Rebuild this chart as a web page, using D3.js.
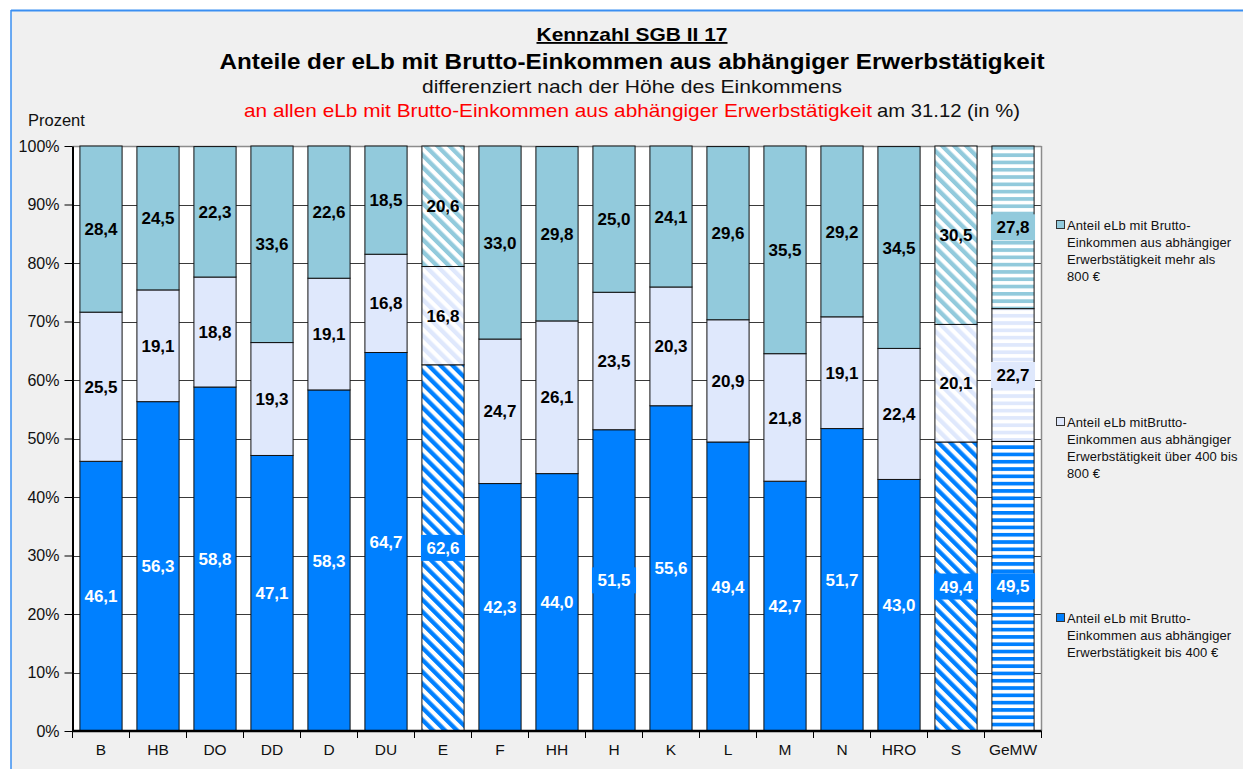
<!DOCTYPE html>
<html>
<head>
<meta charset="utf-8">
<script src="https://cdn.jsdelivr.net/npm/d3@7"></script>
<style>
  html, body { margin: 0; padding: 0; background: #fff; }
  svg { display: block; font-family: "Liberation Sans", Arial, sans-serif; }
</style>
</head>
<body>
<svg id="chart" width="1243" height="769"></svg>
<script>
// Cities / comparison groups on the x axis
const categories = ["B", "HB", "DO", "DD", "D", "DU", "E", "F", "HH", "H", "K", "L", "M", "N", "HRO", "S", "GeMW"];

// Shares (in %) of eLb with gross income from dependent employment
const upTo400 = [46.1, 56.3, 58.8, 47.1, 58.3, 64.7, 62.6, 42.3, 44.0, 51.5, 55.6, 49.4, 42.7, 51.7, 43.0, 49.4, 49.5];
const from400to800 = [25.5, 19.1, 18.8, 19.3, 19.1, 16.8, 16.8, 24.7, 26.1, 23.5, 20.3, 20.9, 21.8, 19.1, 22.4, 20.1, 22.7];
const over800 = [28.4, 24.5, 22.3, 33.6, 22.6, 18.5, 20.6, 33.0, 29.8, 25.0, 24.1, 29.6, 35.5, 29.2, 34.5, 30.5, 27.8];

const yTicks = [0, 10, 20, 30, 40, 50, 60, 70, 80, 90, 100];

const seriesKeys = ["low", "mid", "high"];
const legendLines = {
  high: ["Anteil eLb mit Brutto-", "Einkommen aus abhängiger", "Erwerbstätigkeit mehr als", "800 €"],
  mid: ["Anteil eLb mitBrutto-", "Einkommen aus abhängiger", "Erwerbstätigkeit über 400 bis", "800 €"],
  low: ["Anteil eLb mit Brutto-", "Einkommen aus abhängiger", "Erwerbstätigkeit bis 400 €"]
};

// Styling
const colors = { low: "#0080ff", mid: "#dfe8fc", high: "#92cadc" };
const labelColors = { low: "#ffffff", mid: "#000000", high: "#000000" };
const hatch = { E: "diag", S: "diag", GeMW: "horiz" };
const boxedLabels = new Set(["E|low", "H|low", "S|low", "GeMW|low", "GeMW|mid", "GeMW|high"]);

const rows = categories.map((c, i) => ({ cat: c, low: upTo400[i], mid: from400to800[i], high: over800[i] }));
const stacked = d3.stack().keys(seriesKeys)(rows);

const svg = d3.select("#chart");
const W = 1243, H = 769;
const plot = { left: 72.5, right: 1041.5, top: 146, bottom: 731 };

// Frame background
svg.append("rect").attr("width", W).attr("height", H).attr("fill", "#ffffff");
svg.append("rect").attr("x", 11).attr("y", 10).attr("width", W - 11).attr("height", H - 10).attr("fill", "#f0f0f0");
svg.append("line").attr("x1", 11).attr("x2", W).attr("y1", 10.5).attr("y2", 10.5).attr("stroke", "#3a8ff2").attr("stroke-width", 2);
svg.append("line").attr("x1", 11).attr("x2", 11).attr("y1", 10).attr("y2", H).attr("stroke", "#3a8ff2").attr("stroke-width", 1.5);

// Hatch patterns
const defs = svg.append("defs");
seriesKeys.forEach(k => {
  const pd = defs.append("pattern")
    .attr("id", "diag-" + k).attr("patternUnits", "userSpaceOnUse")
    .attr("width", 8.5).attr("height", 8.5).attr("patternTransform", "rotate(-45)");
  pd.append("rect").attr("width", 8.5).attr("height", 8.5).attr("fill", "#ffffff");
  pd.append("rect").attr("width", 4.3).attr("height", 8.5).attr("fill", colors[k]);

  const ph = defs.append("pattern")
    .attr("id", "horiz-" + k).attr("patternUnits", "userSpaceOnUse")
    .attr("width", 10).attr("height", 7.3);
  ph.append("rect").attr("width", 10).attr("height", 7.3).attr("fill", "#ffffff");
  ph.append("rect").attr("width", 10).attr("height", 3.7).attr("fill", colors[k]);
});

// Scales
const x = d3.scaleBand().domain(categories).range([plot.left, plot.right]).paddingInner(0.26).paddingOuter(0.13);
const y = d3.scaleLinear().domain([0, 100]).range([plot.bottom, plot.top]);

// Plot area
svg.append("rect").attr("x", plot.left).attr("y", plot.top)
  .attr("width", plot.right - plot.left).attr("height", plot.bottom - plot.top).attr("fill", "#ffffff");

svg.append("g").selectAll("line").data(yTicks.filter(d => d > 0)).join("line")
  .attr("x1", plot.left).attr("x2", plot.right)
  .attr("y1", d => Math.round(y(d)) + 0.5).attr("y2", d => Math.round(y(d)) + 0.5)
  .attr("stroke", d => d === 100 ? "#8c8c8c" : "#3a3a3a").attr("stroke-width", d => d === 100 ? 1.5 : 1);

svg.append("line").attr("x1", plot.right).attr("x2", plot.right).attr("y1", plot.top).attr("y2", plot.bottom)
  .attr("stroke", "#8c8c8c").attr("stroke-width", 1.5);

// Bars
const fillFor = (key, cat) => hatch[cat] ? `url(#${hatch[cat]}-${key})` : colors[key];

const layers = svg.append("g").selectAll("g").data(stacked).join("g");
layers.selectAll("rect").data(s => s.map(d => ({ key: s.key, d }))).join("rect")
  .attr("x", o => x(o.d.data.cat))
  .attr("width", x.bandwidth())
  .attr("y", o => y(o.d[1]))
  .attr("height", o => y(o.d[0]) - y(o.d[1]))
  .attr("fill", o => fillFor(o.key, o.d.data.cat))
  .attr("stroke", "#111").attr("stroke-width", 1);

// Value labels
const fmt = v => v.toFixed(1).replace(".", ",");
const labelG = svg.append("g");
stacked.forEach(s => {
  s.forEach(d => {
    const cat = d.data.cat;
    const cx = x(cat) + x.bandwidth() / 2;
    const cy = y((d[0] + d[1]) / 2);
    const g = labelG.append("g");
    const t = g.append("text")
      .attr("x", cx).attr("y", cy).attr("dy", "0.36em")
      .attr("text-anchor", "middle")
      .attr("font-size", 17).attr("font-weight", "bold")
      .attr("fill", labelColors[s.key])
      .text(fmt(d.data[s.key]));
    if (boxedLabels.has(cat + "|" + s.key)) {
      const w = t.node().getComputedTextLength() + 11;
      g.insert("rect", "text")
        .attr("x", cx - w / 2).attr("y", cy - 13)
        .attr("width", w).attr("height", 26)
        .attr("fill", colors[s.key]);
    }
  });
});

// Y axis
const yAxis = svg.append("g").attr("transform", `translate(${plot.left},0)`)
  .call(d3.axisLeft(y).tickValues(yTicks).tickFormat(d => d + "%").tickSize(8).tickSizeOuter(0).tickPadding(5));
yAxis.select(".domain").attr("stroke", "#000").attr("stroke-width", 2);
yAxis.selectAll(".tick line").attr("stroke", "#000");
yAxis.selectAll("text").attr("font-size", 16).attr("fill", "#111").attr("font-family", "Liberation Sans, Arial, sans-serif");

// X axis labels (band centres) and boundary ticks
const xAxis = svg.append("g").attr("transform", `translate(0,${plot.bottom})`)
  .call(d3.axisBottom(x).tickSize(0).tickPadding(13));
xAxis.select(".domain").remove();
xAxis.selectAll("text").attr("font-size", 15.5).attr("fill", "#111").attr("font-family", "Liberation Sans, Arial, sans-serif");

const boundaries = categories.map(c => x(c) - x.step() * x.paddingInner() / 2).concat([plot.right]);
svg.append("g").selectAll("line").data(boundaries).join("line")
  .attr("x1", d => d).attr("x2", d => d)
  .attr("y1", plot.bottom).attr("y2", plot.bottom + 7)
  .attr("stroke", "#000").attr("stroke-width", 1);
svg.append("line").attr("x1", plot.left).attr("x2", plot.right)
  .attr("y1", plot.bottom).attr("y2", plot.bottom)
  .attr("stroke", "#000").attr("stroke-width", 2.5);

// Titles
const cxTitle = 632;
svg.append("text").attr("x", cxTitle).attr("y", 41).attr("text-anchor", "middle")
  .attr("font-size", 18.5).attr("font-weight", "bold").attr("text-decoration", "underline")
  .attr("fill", "#000").attr("textLength", 191).attr("lengthAdjust", "spacingAndGlyphs")
  .text("Kennzahl  SGB II 17");
svg.append("text").attr("x", cxTitle).attr("y", 69).attr("text-anchor", "middle")
  .attr("font-size", 22.5).attr("font-weight", "bold").attr("fill", "#000")
  .attr("textLength", 825).attr("lengthAdjust", "spacingAndGlyphs")
  .text("Anteile der eLb mit Brutto-Einkommen aus abhängiger Erwerbstätigkeit");
svg.append("text").attr("x", cxTitle).attr("y", 93).attr("text-anchor", "middle")
  .attr("font-size", 19).attr("fill", "#111")
  .attr("textLength", 420).attr("lengthAdjust", "spacingAndGlyphs")
  .text("differenziert nach der Höhe des Einkommens");
svg.append("text").attr("x", 244).attr("y", 117)
  .attr("font-size", 19).attr("fill", "#ff0000")
  .attr("textLength", 628).attr("lengthAdjust", "spacingAndGlyphs")
  .text("an allen eLb mit Brutto-Einkommen aus abhängiger Erwerbstätigkeit");
svg.append("text").attr("x", 877).attr("y", 117)
  .attr("font-size", 19).attr("fill", "#111")
  .attr("textLength", 143).attr("lengthAdjust", "spacingAndGlyphs")
  .text("am 31.12 (in %)");

svg.append("text").attr("x", 28).attr("y", 126).attr("font-size", 16.5).attr("fill", "#111").text("Prozent");

// Legend
const legendTop = { high: 225, mid: 422, low: 618 };
["high", "mid", "low"].forEach(k => {
  const g = svg.append("g").attr("transform", `translate(1056,${legendTop[k]})`);
  g.append("rect").attr("x", 0.5).attr("y", -4.5).attr("width", 8).attr("height", 8)
    .attr("fill", colors[k]).attr("stroke", "#333").attr("stroke-width", 1);
  legendLines[k].forEach((line, i) => {
    g.append("text").attr("x", 11).attr("y", i * 17 + 5)
      .attr("font-size", 13).attr("letter-spacing", 0.1).attr("fill", "#111")
      .text(line);
  });
});
</script>
</body>
</html>
